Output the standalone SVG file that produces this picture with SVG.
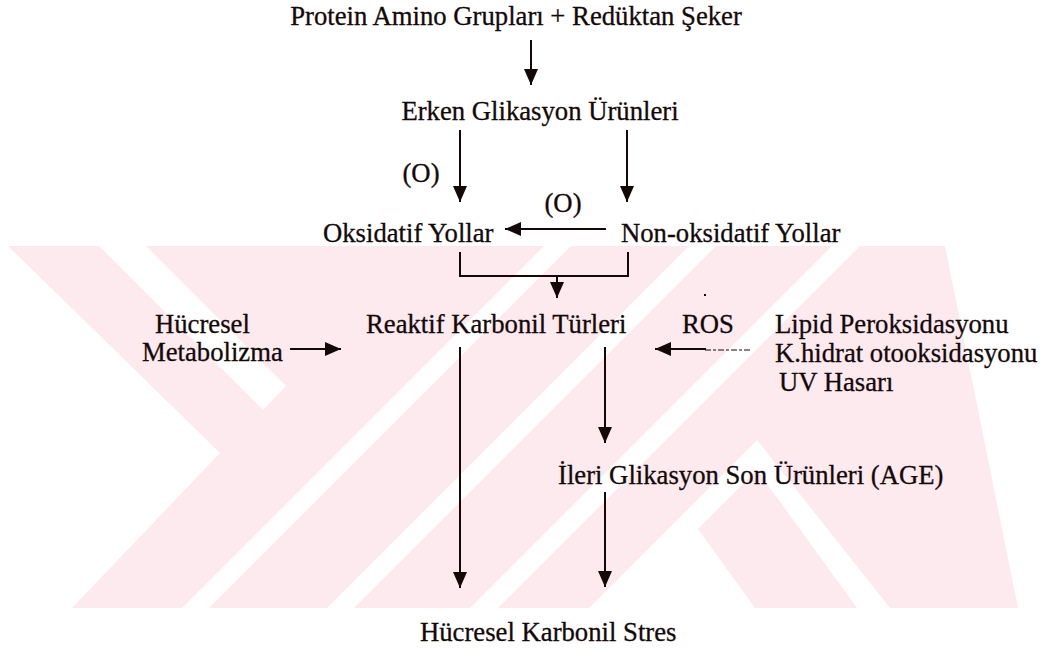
<svg xmlns="http://www.w3.org/2000/svg" width="1048" height="649" viewBox="0 0 1048 649">
<style>
  .t { font-family: "Liberation Serif", "Times New Roman", serif; font-size: 26.7px; fill: #140909; stroke: #140909; stroke-width: 0.3px; }
  .c { stroke: #140909; stroke-width: 2; fill: none; }
  .wm { fill: #fdeaee; stroke: none; }
  .wg { fill: #ffffff; stroke: none; }
</style>
<defs>
  <marker id="ah" markerUnits="userSpaceOnUse" markerWidth="16" markerHeight="14" refX="16" refY="7" orient="auto">
    <path d="M0,0 L16,7 L0,14 Z" fill="#140909"/>
  </marker>
</defs>
<rect x="0" y="0" width="1048" height="649" fill="#ffffff"/>
<g id="watermark">
  <polygon class="wm" points="8,246 945,246 1018,608 72,608 220,453"/>
  <polygon class="wg" points="99,246 146,246 286,386 263,410"/>
  <polygon class="wg" points="544,246 571,246 209,608 182,608"/>
  <polygon class="wg" points="689,246 716,246 354,608 327,608"/>
  <polygon class="wg" points="832,246 860,246 498,608 470,608"/>
  <polygon class="wg" points="589,608 757,440 890,608"/>
  <polygon class="wm" points="698,529 757,470 857,608 755,608"/>
</g>
<g id="connectors">
  <line class="c" x1="531" y1="40" x2="531" y2="85" marker-end="url(#ah)"/>
  <line class="c" x1="460" y1="130" x2="460" y2="202" marker-end="url(#ah)"/>
  <line class="c" x1="627" y1="130" x2="627" y2="202" marker-end="url(#ah)"/>
  <line class="c" x1="606" y1="229" x2="505" y2="229" marker-end="url(#ah)"/>
  <path class="c" d="M460,252 V276 H628 V252"/>
  <line class="c" x1="557" y1="276" x2="557" y2="298" marker-end="url(#ah)"/>
  <line class="c" x1="290" y1="349" x2="341" y2="349" marker-end="url(#ah)"/>
  <line class="c" x1="706" y1="349" x2="655" y2="349" marker-end="url(#ah)"/>
  <line stroke="#140909" stroke-width="1.2" stroke-dasharray="6 2 3 2" x1="705" y1="350" x2="751" y2="350"/>
  <line class="c" x1="460" y1="347" x2="460" y2="588" marker-end="url(#ah)"/>
  <line class="c" x1="605" y1="347" x2="605" y2="443" marker-end="url(#ah)"/>
  <line class="c" x1="605" y1="492" x2="605" y2="587" marker-end="url(#ah)"/>
  <rect x="704" y="294" width="2" height="2" fill="#140909"/>
</g>
<g id="n-protein"><text class="t" x="516" y="25" text-anchor="middle">Protein Amino Grupları + Redüktan Şeker</text></g>
<g id="n-erken"><text class="t" x="540" y="120" text-anchor="middle">Erken Glikasyon Ürünleri</text></g>
<g id="l-o1"><text class="t" x="421" y="182" text-anchor="middle">(O)</text></g>
<g id="l-o2"><text class="t" x="563" y="212" text-anchor="middle">(O)</text></g>
<g id="n-oksidatif"><text class="t" x="323" y="242">Oksidatif Yollar</text></g>
<g id="n-nonoksidatif"><text class="t" x="621" y="242">Non-oksidatif Yollar</text></g>
<g id="n-hucresel"><text class="t" x="155" y="333">Hücresel</text><text class="t" x="142" y="361">Metabolizma</text></g>
<g id="n-reaktif"><text class="t" x="366" y="333">Reaktif Karbonil Türleri</text></g>
<g id="l-ros"><text class="t" x="682" y="333">ROS</text></g>
<g id="n-lipid"><text class="t" x="775" y="333">Lipid Peroksidasyonu</text><text class="t" x="775" y="362">K.hidrat otooksidasyonu</text><text class="t" x="779" y="391">UV Hasarı</text></g>
<g id="n-age"><text class="t" x="558" y="484">İleri Glikasyon Son Ürünleri (AGE)</text></g>
<g id="n-stres"><text class="t" x="420" y="641">Hücresel Karbonil Stres</text></g>
</svg>
